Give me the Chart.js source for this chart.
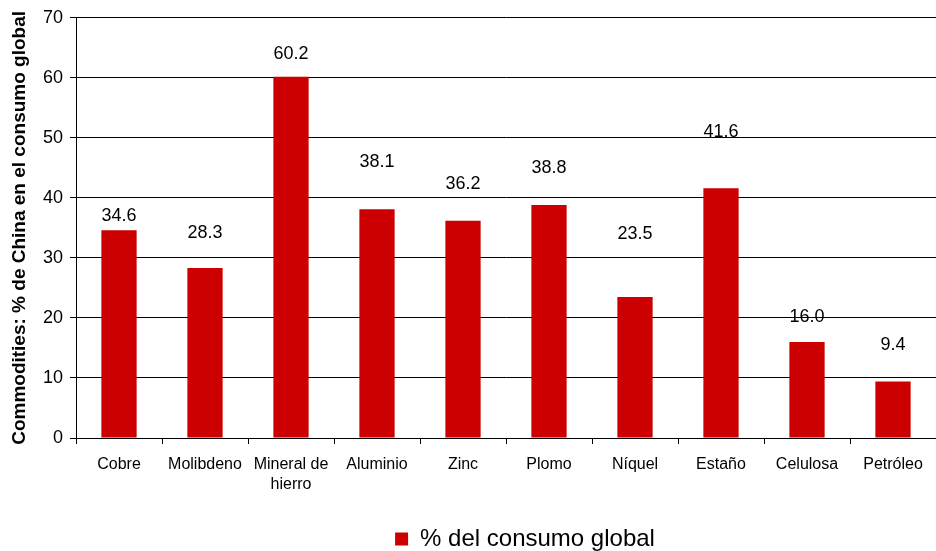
<!DOCTYPE html>
<html lang="es">
<head>
    <meta charset="UTF-8">
    <title>Commodities: % de China en el consumo global</title>
    <script src="https://cdn.jsdelivr.net/npm/chart.js"></script>
    <style>
        body { margin: 0; background: #fff; }
    </style>
</head>
<body>
    <canvas id="chinaChart" width="936" height="551"></canvas>

    <script>
        // Datos
        const categorias = ['Cobre', 'Molibdeno', ['Mineral de', 'hierro'], 'Aluminio', 'Zinc', 'Plomo', 'Níquel', 'Estaño', 'Celulosa', 'Petróleo'];
        const consumoGlobal = [34.6, 28.3, 60.2, 38.1, 36.2, 38.8, 23.5, 41.6, 16.0, 9.4];
        const ticksY = [0, 10, 20, 30, 40, 50, 60, 70];

        Chart.defaults.font.family = '"Liberation Sans", Arial, sans-serif';
        Chart.defaults.color = '#000';

        // etiquetas de valor sobre cada barra (la altura varía como en el original)
        const etiquetasBarras = {
            id: 'etiquetasBarras',
            afterDatasetsDraw(chart, args, opts) {
                const ctx = chart.ctx;
                const meta = chart.getDatasetMeta(0);
                ctx.save();
                ctx.font = '18px "Liberation Sans", Arial, sans-serif';
                ctx.fillStyle = '#000';
                ctx.textAlign = 'center';
                ctx.textBaseline = 'middle';
                meta.data.forEach((bar, i) => {
                    const v = chart.data.datasets[0].data[i];
                    ctx.fillText(v.toFixed(1), bar.x, bar.y - opts.raise[i]);
                });
                ctx.restore();
            }
        };

        // la leyenda del original no está centrada en el lienzo
        const moverLeyenda = {
            id: 'moverLeyenda',
            afterLayout(chart) {
                const lg = chart.legend;
                lg.left += 114;
                lg.top += 10;
                lg.bottom += 10;
            }
        };

        new Chart(document.getElementById('chinaChart'), {
            type: 'bar',
            data: {
                labels: categorias,
                datasets: [{
                    label: '% del consumo global',
                    data: consumoGlobal,
                    backgroundColor: '#CC0000',
                    borderWidth: 0,
                    barPercentage: 0.41,
                    categoryPercentage: 1
                }]
            },
            options: {
                responsive: false,
                animation: false,
                layout: { padding: { top: 16, right: 0, bottom: 0, left: 0 } },
                plugins: {
                    tooltip: { enabled: false },
                    legend: {
                        position: 'bottom',
                        labels: {
                            font: { size: 24 },
                            boxWidth: 13,
                            boxHeight: 13,
                            padding: 3,
                            color: '#000'
                        }
                    },
                    etiquetasBarras: { raise: [14, 35, 23, 47, 37, 37, 63, 56, 25, 37] }
                },
                scales: {
                    x: {
                        grid: {
                            drawOnChartArea: false,
                            drawTicks: true,
                            tickLength: 6,
                            color: '#000'
                        },
                        border: { color: '#000', width: 1 },
                        ticks: {
                            font: { size: 16, lineHeight: 1.25 },
                            color: '#000',
                            padding: 11,
                            maxRotation: 0,
                            autoSkip: false
                        },
                        afterFit(scale) {
                            const lh = scale.chart.legend ? scale.chart.legend.height : 30;
                            scale.height = 551 - 438 - lh;
                        }
                    },
                    y: {
                        min: 0,
                        max: 70,
                        afterBuildTicks(scale) {
                            scale.ticks = ticksY.map(v => ({ value: v }));
                        },
                        grid: {
                            color: '#000',
                            tickLength: 6,
                            lineWidth: 1
                        },
                        border: { color: '#000', width: 1 },
                        ticks: {
                            font: { size: 18 },
                            color: '#000',
                            padding: 7
                        },
                        title: {
                            display: true,
                            text: 'Commodities: % de China en el consumo global',
                            font: { size: 19, weight: 'bold' },
                            color: '#000',
                            padding: { top: 8, bottom: 4 }
                        },
                        afterFit(scale) {
                            scale.width = 76;
                        }
                    }
                }
            },
            plugins: [etiquetasBarras, moverLeyenda]
        });
    </script>
</body>
</html>
